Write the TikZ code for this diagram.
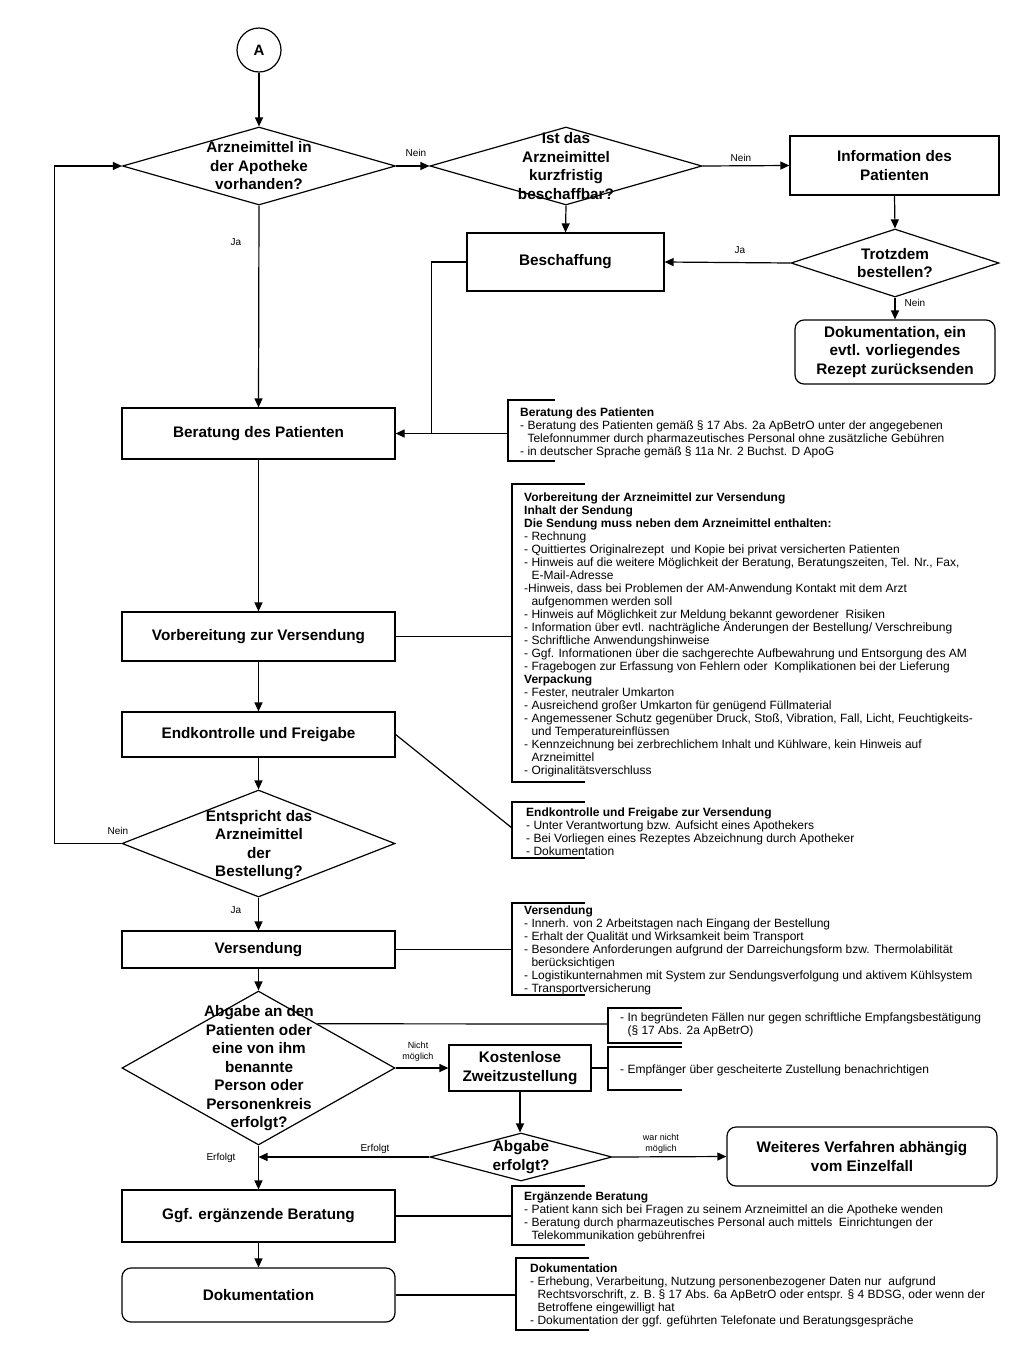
\documentclass[tikz,border=0pt]{standalone}
\usepackage{fontspec}
\setmainfont{Liberation Sans}
\usetikzlibrary{shapes.geometric,arrows.meta,calc,positioning}

\begin{document}
\begin{tikzpicture}[x=1pt, y=-1pt, >={Triangle[length=9pt,width=8pt]},
    every node/.style={inner sep=0pt},
    line/.style={line width=1.2pt},
    box/.style={draw, line width=1.2pt, align=center, font=\fontsize{15.3}{18.5}\selectfont\bfseries},
    rbox/.style={box, rounded corners=9pt},
    decision/.style={draw, diamond, line width=1.2pt},
    dtext/.style={align=center, font=\fontsize{15.3}{18.5}\selectfont\bfseries},
    note/.style={anchor=north west, align=left, font=\fontsize{12}{13}\selectfont},
    lab/.style={align=center, font=\fontsize{10}{11}\selectfont}]

  \useasboundingbox (0,0) rectangle (1024,1366);
  \fill[white] (0,0) rectangle (1024,1366);

  % main column
  \node[draw, circle, line width=1.2pt, minimum size=44pt, font=\fontsize{15}{16}\selectfont\bfseries] (start) at (259,50) {A};
  \node[decision, minimum width=273pt, minimum height=78pt] (d1) at (259,166) {};
  \node[dtext] (d1t) at (d1) {Arzneimittel in\\der Apotheke\\vorhanden?};
  \node[box, minimum width=273pt, minimum height=51pt] (ber) at (258.5,433.5) {Beratung des Patienten};
  \node[box, minimum width=273pt, minimum height=49pt] (vorb) at (258.5,636.5) {Vorbereitung zur Versendung};
  \node[box, minimum width=273pt, minimum height=45pt] (endk) at (258.5,734.5) {Endkontrolle und Freigabe};
  \node[decision, minimum width=273pt, minimum height=107pt] (d4) at (258.5,843.5) {};
  \node[dtext] (d4t) at (259,845) {Entspricht das\\Arzneimittel\\der\\Bestellung?};
  \node[box, minimum width=273pt, minimum height=37pt] (vers) at (258.5,949.5) {Versendung};
  \node[decision, minimum width=273pt, minimum height=154pt] (d5) at (258.5,1068) {};
  \node[dtext] (d5t) at (259,1068.5) {Abgabe an den\\Patienten oder\\eine von ihm\\benannte\\Person oder\\Personenkreis\\erfolgt?};
  \node[box, minimum width=273pt, minimum height=52pt] (ggf) at (258.5,1216) {Ggf. ergänzende Beratung};
  \node[rbox, minimum width=273pt, minimum height=54pt] (doku2) at (258.5,1295) {Dokumentation};

  % right part
  \node[decision, minimum width=272pt, minimum height=78pt] (d2) at (566,166) {};
  \node[dtext] (d2t) at (566,166) {Ist das\\Arzneimittel\\kurzfristig\\beschaffbar?};
  \node[box, minimum width=209pt, minimum height=59pt] (info) at (894.5,165.5) {Information des\\Patienten};
  \node[decision, minimum width=208pt, minimum height=68pt] (d3) at (895,263) {};
  \node[dtext] (d3t) at (d3) {Trotzdem\\bestellen?};
  \node[box, minimum width=197pt, minimum height=58pt] (besch) at (565.5,262) {Beschaffung};
  \node[rbox, minimum width=200pt, minimum height=64pt] (doku1) at (895,352) {Dokumentation, ein\\evtl. vorliegendes\\Rezept zurücksenden};
  \node[box, minimum width=142pt, minimum height=46pt] (kost) at (520,1068) {Kostenlose\\Zweitzustellung};
  \node[decision, minimum width=182pt, minimum height=48pt] (d6) at (521,1157) {};
  \node[dtext] (d6t) at (d6) {Abgabe\\erfolgt?};
  \node[rbox, minimum width=270pt, minimum height=59pt] (weit) at (862,1156.5) {Weiteres Verfahren abhängig\\vom Einzelfall};

  % arrows
  \draw[line,->] (start) -- (d1.north);
  \draw[line,->] (d1.east) -- (d2.west);
  \draw[line,->] (d2.east) -- (info.west);
  \draw[line,->] (info.south) -- (d3.north);
  \draw[line,->] (d3.west) -- (besch.east);
  \draw[line,->] (d2.south) -- (besch.north);
  \draw[line,->] (d3.south) -- (doku1.north);
  \draw[line,->] (besch.west) -- ++(-35,0) |- (ber.east);
  \draw[line,->] (d1.south) -- (ber.north);
  \draw[line,->] (ber.south) -- (vorb.north);
  \draw[line,->] (vorb.south) -- (endk.north);
  \draw[line,->] (endk.south) -- (d4.north);
  \draw[line,->] (d4.west) -- ++(-67,0) |- (d1.west);
  \draw[line,->] (d4.south) -- (vers.north);
  \draw[line,->] (vers.south) -- (d5.north);
  \draw[line,->] (d5.east) -- (kost.west);
  \draw[line,->] (kost.south) -- (kost.south |- d6.north);
  \draw[line,->] (d6.west) -- (d6.west -| d5.south);
  \draw[line,->] (d5.south) -- (ggf.north);
  \draw[line,->] (d6.east) -- (weit.west);
  \draw[line,->] (ggf.south) -- (doku2.north);

  % labels
  \node[lab] (l1) at (416,153) {Nein};
  \node[lab] (l2) at (741,158) {Nein};
  \node[lab] (l3) at (740,250) {Ja};
  \node[lab] (l4) at (915,303) {Nein};
  \node[lab] (l5) at (236,242) {Ja};
  \node[lab] (l6) at (118,831) {Nein};
  \node[lab] (l7) at (236,910) {Ja};
  \node[lab, font=\fontsize{9}{11}\selectfont] (l8) at (418,1052) {Nicht\\möglich};
  \node[lab] (l9) at (375,1149) {Erfolgt};
  \node[lab] (l10) at (221,1158) {Erfolgt};
  \node[lab, font=\fontsize{9}{11}\selectfont] (l11) at (661,1144) {war nicht\\möglich};

  % notes
  \coordinate (b1) at (508,433.5);
  \coordinate (b2) at (512,636.5);
  \coordinate (b3) at (512,828);
  \coordinate (b4) at (512,949.5);
  \coordinate (b5) at (608,1024);
  \coordinate (b6) at (608,1068);
  \coordinate (b7) at (512,1216);
  \coordinate (b8) at (516,1295);
  \coordinate (d5e) at ($(d5.north)!0.43!(d5.east)$);

  \draw[line] (555,400) -| (508,461) -- (555,461);
  \draw[line] (585,484) -| (512,782) -- (585,782);
  \draw[line] (585,802) -| (512,858) -- (585,858);
  \draw[line] (585,903) -| (512,995) -- (585,995);
  \draw[line] (682,1008) -| (608,1043) -- (682,1043);
  \draw[line] (682,1047) -| (608,1090) -- (682,1090);
  \draw[line] (585,1186) -| (512,1245) -- (585,1245);
  \draw[line] (589,1258) -| (516,1330) -- (589,1330);

  \draw[line] (ber.east) -- (b1);
  \draw[line] (vorb.east) -- (b2);
  \draw[line] (endk.east) -- (b3);
  \draw[line] (vers.east) -- (b4);
  \draw[line] (d5e) -- (b5);
  \draw[line] (kost.east) -- (b6);
  \draw[line] (ggf.east) -- (b7);
  \draw[line] (doku2.east) -- (b8);

  \node[note] (n1) at (520,408) {\textbf{Beratung des Patienten}\\
    - Beratung des Patienten gemäß § 17 Abs. 2a ApBetrO unter der angegebenen\\
    \phantom{- }Telefonnummer durch pharmazeutisches Personal ohne zusätzliche Gebühren\\
    - in deutscher Sprache gemäß § 11a Nr. 2 Buchst. D ApoG};
  \node[note] (n2) at (524,493) {\textbf{Vorbereitung der Arzneimittel zur Versendung}\\
    \textbf{Inhalt der Sendung}\\
    \textbf{Die Sendung muss neben dem Arzneimittel enthalten:}\\
    - Rechnung\\
    - Quittiertes Originalrezept\ \ und Kopie bei privat versicherten Patienten\\
    - Hinweis auf die weitere Möglichkeit der Beratung, Beratungszeiten, Tel. Nr., Fax,\\
    \phantom{- }E-Mail-Adresse\\
    -Hinweis, dass bei Problemen der AM-Anwendung Kontakt mit dem Arzt\\
    \phantom{- }aufgenommen werden soll\\
    - Hinweis auf Möglichkeit zur Meldung bekannt gewordener\ \ Risiken\\
    - Information über evtl. nachträgliche Änderungen der Bestellung/ Verschreibung\\
    - Schriftliche Anwendungshinweise\\
    - Ggf. Informationen über die sachgerechte Aufbewahrung und Entsorgung des AM\\
    - Fragebogen zur Erfassung von Fehlern oder\ \ Komplikationen bei der Lieferung\\
    \textbf{Verpackung}\\
    - Fester, neutraler Umkarton\\
    - Ausreichend großer Umkarton für genügend Füllmaterial\\
    - Angemessener Schutz gegenüber Druck, Stoß, Vibration, Fall, Licht, Feuchtigkeits-\\
    \phantom{- }und Temperatureinflüssen\\
    - Kennzeichnung bei zerbrechlichem Inhalt und Kühlware, kein Hinweis auf\\
    \phantom{- }Arzneimittel\\
    - Originalitätsverschluss};
  \node[note] (n3) at (526,808) {\textbf{Endkontrolle und Freigabe zur Versendung}\\
    - Unter Verantwortung bzw. Aufsicht eines Apothekers\\
    - Bei Vorliegen eines Rezeptes Abzeichnung durch Apotheker\\
    - Dokumentation};
  \node[note] (n4) at (524,906) {\textbf{Versendung}\\
    - Innerh. von 2 Arbeitstagen nach Eingang der Bestellung\\
    - Erhalt der Qualität und Wirksamkeit beim Transport\\
    - Besondere Anforderungen aufgrund der Darreichungsform bzw. Thermolabilität\\
    \phantom{- }berücksichtigen\\
    - Logistikunternahmen mit System zur Sendungsverfolgung und aktivem Kühlsystem\\
    - Transportversicherung};
  \node[note] (n5) at (620,1013) {- In begründeten Fällen nur gegen schriftliche Empfangsbestätigung\\
    \phantom{- }(§ 17 Abs. 2a ApBetrO)};
  \node[note] (n6) at (620,1065) {- Empfänger über gescheiterte Zustellung benachrichtigen};
  \node[note] (n7) at (524,1192) {\textbf{Ergänzende Beratung}\\
    - Patient kann sich bei Fragen zu seinem Arzneimittel an die Apotheke wenden\\
    - Beratung durch pharmazeutisches Personal auch mittels\ \ Einrichtungen der\\
    \phantom{- }Telekommunikation gebührenfrei};
  \node[note] (n8) at (530,1264) {\textbf{Dokumentation}\\
    - Erhebung, Verarbeitung, Nutzung personenbezogener Daten nur\ \ aufgrund\\
    \phantom{- }Rechtsvorschrift, z. B. § 17 Abs. 6a ApBetrO oder entspr. § 4 BDSG, oder wenn der\\
    \phantom{- }Betroffene eingewilligt hat\\
    - Dokumentation der ggf. geführten Telefonate und Beratungsgespräche};
\end{tikzpicture}
\end{document}
